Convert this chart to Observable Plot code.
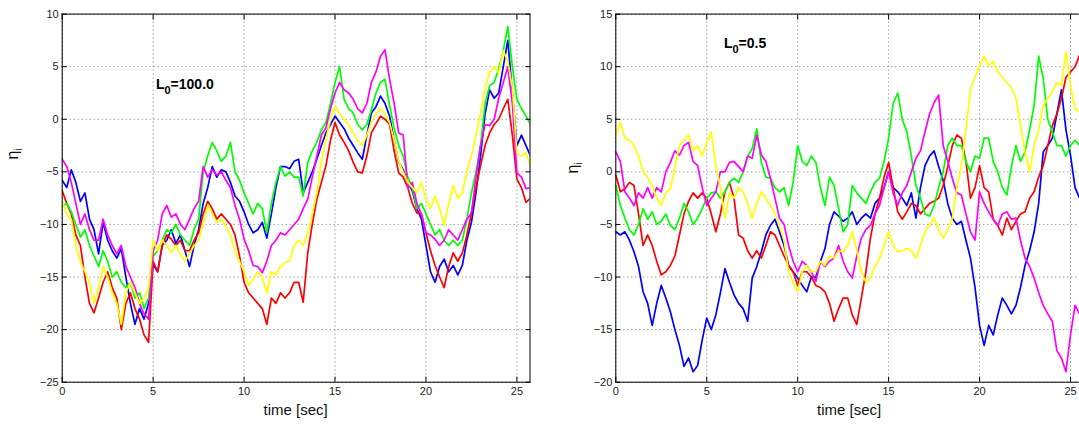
<!DOCTYPE html>
<html><head><meta charset="utf-8">
<script src="https://cdn.jsdelivr.net/npm/d3@7"></script>
<script src="https://cdn.jsdelivr.net/npm/@observablehq/plot@0.6"></script>
<style>
html,body{margin:0;padding:0;background:#fff;overflow:hidden;}
#wrap{position:relative;width:1079px;height:425px;overflow:hidden;}
#left,#right{position:absolute;top:0;height:425px;}
#left{left:0;width:540px;} #right{left:540px;width:560px;}
#wrap svg{max-width:none !important;}
</style></head><body>
<div id="wrap"><div id="left"></div><div id="right"></div></div>
<script>
// sample spacing of the read values (seconds)
const dt = 0.25;
const seriesColors = ["#0000ff", "#ff0000", "#00ff00", "#ff00ff", "#ffff00"];
const xTicks = [0, 5, 10, 15, 20, 25];
const yTicksLeft = [-25, -20, -15, -10, -5, 0, 5, 10];
const yTicksRight = [-20, -15, -10, -5, 0, 5, 10, 15];
const panelTitles = ["100.0", "0.5"];
const annT = [5.18, 5.97];
const annV = [2.8, 11.74];

// ---- Left panel (L0 = 100.0) ----
const leftBlue = [
-5.8,-6.5,-4.8,-6.0, -7.8,-7.0,-9.5,-10.5, -12.8,-9.8,-11.5,-12.5, -13.2,-12.3,-15.0,-17.5,
-19.5,-18.0,-19.0,-17.5, -13.8,-14.5,-12.0,-11.5, -10.5,-11.8,-11.0,-12.5, -14.0,-12.0,-10.5,-8.0,
-6.5,-4.5,-5.5,-4.8, -5.0,-6.0,-7.3,-7.8, -8.8,-10.0,-10.8,-10.5, -9.8,-11.3,-9.0,-6.5,
-4.5,-4.5,-4.7,-4.0, -3.8,-7.0,-6.0,-5.0, -3.8,-2.5,-1.3,-0.5, 0.3,-0.3,-0.9,-1.8,
-2.5,-3.2,-3.8,-1.5, 0.6,1.2,2.2,1.5, 0.3,-2.0,-4.1,-4.8, -6.0,-6.8,-8.5,-9.5,
-12.0,-14.5,-15.5,-14.0, -13.3,-14.5,-13.9,-14.8, -13.9,-11.5,-9.8,-7.0, -3.5,0.5,2.8,2.0,
2.5,5.0,7.5,2.5, -2.5,-1.5,-2.5,-3.5];
const leftGreen = [
-8.3,-8.0,-8.8,-10.0, -11.2,-10.5,-12.0,-13.0, -14.0,-12.5,-13.5,-15.0, -14.5,-15.5,-16.0,-15.5,
-17.0,-16.5,-18.0,-17.0, -13.0,-12.5,-11.5,-10.5, -10.8,-10.0,-11.0,-11.5, -12.0,-10.5,-9.5,-5.0,
-3.5,-2.2,-3.0,-4.0, -3.5,-2.2,-5.0,-5.8, -7.0,-8.0,-9.0,-8.0, -8.5,-10.8,-8.0,-6.0,
-4.5,-5.4,-5.0,-5.5, -5.5,-7.3,-4.1,-3.0, -2.2,-1.0,-0.3,1.5, 3.5,5.0,1.9,1.0,
0.6,-0.5,-1.0,-0.5, 0.9,2.5,3.5,3.8, 1.3,-0.8,-2.5,-3.5, -5.5,-6.5,-8.5,-8.0,
-9.0,-10.0,-11.0,-10.5, -11.5,-12.0,-11.5,-12.0, -11.5,-9.5,-7.0,-5.0, -2.5,1.5,3.2,3.5,
4.8,6.5,8.8,5.0, 1.9,1.0,0.3,-0.5];
const leftRed = [
-6.8,-8.0,-9.0,-11.0, -12.0,-15.0,-17.5,-18.4, -17.0,-15.5,-14.5,-16.0, -17.0,-20.0,-17.5,-16.5,
-18.0,-19.0,-20.5,-21.2, -13.5,-14.5,-12.0,-11.0, -11.4,-12.0,-11.5,-12.5, -12.5,-11.5,-10.8,-9.0,
-7.8,-8.5,-9.5,-9.0, -9.5,-10.0,-11.0,-13.0, -15.5,-16.5,-17.0,-17.5, -18.0,-19.5,-17.0,-17.5,
-16.5,-17.0,-16.5,-15.5, -15.5,-17.4,-12.7,-10.0, -7.6,-6.0,-4.4,-2.0, -0.3,-1.5,-2.2,-3.0,
-4.1,-5.0,-5.1,-3.5, -1.3,-0.5,0.3,0.0, -0.5,-3.0,-5.1,-5.5, -6.5,-8.0,-8.9,-9.0,
-10.8,-12.5,-13.9,-15.0, -16.0,-14.0,-12.7,-13.5, -12.7,-11.0,-8.9,-6.5, -4.4,-2.5,-1.3,-0.5,
0.0,1.0,1.9,-1.5, -5.7,-6.5,-7.9,-7.5];
const leftYellow = [
-7.8,-9.0,-9.5,-12.0, -13.5,-14.5,-15.5,-17.5, -16.0,-14.0,-15.0,-16.5, -17.5,-19.5,-16.5,-15.5,
-16.5,-17.5,-17.0,-16.0, -11.5,-12.5,-11.5,-12.0, -12.7,-12.0,-12.8,-13.5, -12.8,-12.0,-11.5,-10.0,
-8.2,-9.0,-9.8,-9.5, -10.2,-11.0,-12.5,-13.5, -14.5,-15.8,-15.2,-14.5, -15.0,-16.5,-14.5,-14.8,
-14.0,-13.6,-13.5,-12.0, -11.5,-12.0,-10.8,-9.0, -7.0,-4.0,-1.9,0.0, 1.3,0.5,0.0,-0.5,
-1.3,-2.0,-2.5,-1.5, -0.3,0.5,1.0,0.5, -0.3,-2.0,-4.0,-5.0, -6.0,-6.5,-7.0,-6.0,
-7.6,-8.5,-7.3,-8.5, -10.1,-8.0,-6.3,-7.5, -7.0,-5.0,-3.5,-1.5, 0.6,3.0,4.5,5.0,
4.4,6.5,5.5,3.0, -3.2,-3.5,-3.2,-4.5];
const leftMagenta = [
-3.8,-4.5,-6.0,-8.0, -10.0,-9.0,-10.5,-11.5, -11.5,-9.5,-11.0,-12.0, -12.8,-12.0,-14.0,-15.0,
-16.0,-17.5,-18.5,-19.0, -12.5,-11.5,-9.0,-8.2, -9.3,-9.0,-10.0,-10.5, -9.5,-8.5,-7.8,-4.5,
-5.5,-4.8,-5.3,-5.0, -5.8,-6.5,-8.2,-9.5, -11.4,-12.5,-13.9,-14.0, -14.6,-13.5,-12.0,-11.5,
-10.8,-11.0,-10.5,-10.0, -9.5,-8.5,-7.6,-5.5, -3.5,-1.5,-0.8,1.0, 2.5,3.5,2.8,2.5,
1.9,1.0,0.6,1.5, 3.5,4.5,6.0,6.6, 3.8,1.5,-1.3,-1.5, -6.5,-6.0,-8.0,-9.0,
-10.8,-11.0,-11.4,-12.0, -11.5,-10.5,-11.0,-11.5, -10.5,-9.5,-8.9,-5.5, -2.5,-0.5,-0.6,0.0,
2.0,3.5,5.0,1.5, -5.1,-5.5,-6.6,-6.5];

// ---- Right panel (L0 = 0.5) ----
const rightBlue = [
-5.7,-6.0,-5.7,-6.5, -7.6,-9.0,-11.4,-12.5, -14.6,-12.5,-10.8,-12.0, -13.3,-15.0,-16.5,-18.5,
-17.7,-19.0,-18.4,-16.0, -13.9,-15.0,-13.6,-11.5, -9.2,-10.5,-11.7,-12.5, -13.0,-14.2,-10.1,-9.0,
-7.6,-6.0,-5.1,-4.5, -5.7,-7.0,-8.9,-9.5, -10.1,-10.8,-11.4,-10.0, -10.0,-8.5,-7.3,-5.0,
-3.8,-4.2,-4.7,-4.4, -3.8,-5.0,-4.4,-4.0, -4.4,-3.0,-2.5,-1.5, 0.0,-1.5,-1.9,-2.5,
-3.2,-2.0,-4.4,-1.5, 0.6,1.5,2.0,0.5, -0.8,-3.0,-4.4,-5.0, -4.7,-6.5,-8.2,-11.0,
-14.6,-16.5,-14.6,-15.5, -13.6,-12.0,-12.7,-13.5, -12.7,-11.0,-8.9,-7.5, -5.7,-3.0,1.9,2.5,
3.2,5.5,7.8,4.0, 1.6,-1.5,-2.5,-3.0];
const rightGreen = [
-1.3,-3.2,-4.4,-5.5, -6.0,-5.0,-3.5,-4.5, -3.8,-5.0,-4.7,-4.0, -5.1,-5.5,-4.4,-3.0,
-3.8,-5.0,-4.4,-3.5, -2.5,-2.0,-1.9,-2.5, -1.9,-1.0,-0.6,-1.0, 0.0,1.5,2.2,4.1,
0.9,-0.5,-0.6,-1.5, -1.9,-1.5,-3.2,-1.0, 2.5,1.0,0.6,1.5, 0.9,-1.5,-3.2,-0.5,
-1.3,-3.5,-5.7,-5.0, -1.3,-2.0,-2.5,-3.0, -1.9,-1.0,-0.6,1.0, 3.2,6.5,7.5,5.0,
3.8,1.5,-1.3,-2.5, -4.0,-4.2,-3.2,-1.5, 0.0,2.5,3.2,2.5, 2.5,1.0,0.0,1.5,
1.3,3.2,3.2,1.0, 0.0,-1.5,-2.2,0.5, 2.5,1.0,1.9,4.0, 6.3,11.0,8.9,5.0,
3.8,2.5,2.5,1.5, 2.5,3.0,2.5,2.0];
const rightRed = [
-0.3,-1.9,-1.6,-1.0, -1.3,-4.0,-7.0,-6.0, -7.0,-8.5,-9.8,-9.5, -8.9,-8.0,-6.0,-4.0,
-2.8,-2.0,-2.5,-2.0, -2.5,-4.0,-5.7,-4.0, -1.9,-1.0,-2.5,-6.0, -6.3,-7.5,-8.2,-7.5,
-8.2,-7.0,-5.7,-6.0, -7.0,-8.0,-8.9,-9.5, -10.8,-9.5,-9.5,-10.0, -10.8,-11.0,-11.4,-12.5,
-14.2,-13.0,-12.0,-12.0, -13.6,-14.5,-12.0,-9.5, -6.3,-4.0,-2.5,-0.5, 0.9,-1.5,-3.8,-4.5,
-3.8,-3.0,-3.2,-4.0, -3.5,-3.0,-2.8,-2.5, -1.3,0.5,2.5,3.5, 3.2,1.0,-2.5,-1.5,
0.6,-1.5,-1.9,-4.5, -5.1,-6.0,-4.4,-5.5, -4.7,-4.0,-3.8,-2.5, -1.9,-0.5,0.6,2.5,
4.4,5.5,7.0,9.0, 9.5,10.0,11.1,10.0];
const rightYellow = [
3.5,4.7,3.2,3.0, 2.5,1.5,0.0,-0.5, -1.3,-2.5,-3.2,-2.0, -1.6,0.5,2.5,3.0,
3.5,2.0,2.5,1.5, 2.8,3.8,0.6,-1.5, -4.4,-2.0,-2.5,-1.5, -1.9,-3.0,-4.4,-3.0,
-1.9,-2.5,-3.2,-4.0, -5.1,-6.5,-9.5,-10.5, -11.4,-9.5,-8.9,-9.5, -9.5,-8.5,-8.9,-8.0,
-8.2,-7.5,-7.6,-7.0, -5.7,-7.5,-9.5,-10.5, -10.1,-9.0,-8.2,-7.0, -5.7,-7.0,-7.6,-7.5,
-7.3,-7.5,-8.2,-7.0, -5.7,-5.0,-4.4,-5.5, -6.3,-5.5,-4.4,-1.5, 0.6,4.0,7.9,9.0,
10.1,11.0,10.1,10.5, 9.5,9.0,8.5,8.0, 7.0,4.5,1.9,0.0, 2.5,4.0,6.3,7.0,
7.6,8.5,8.2,11.4, 8.2,6.0,5.7,6.0];
const rightMagenta = [
1.9,1.0,-1.9,-2.5, -3.2,-2.0,-2.5,-1.5, -2.5,-1.5,-1.9,0.0, 0.9,2.0,1.6,2.5,
2.8,1.0,0.6,-1.5, -3.2,-2.5,-1.9,0.0, 0.0,0.9,1.0,0.5, 0.0,1.5,1.3,3.5,
1.6,1.0,-0.6,-2.5, -4.4,-5.0,-7.0,-8.5, -9.5,-8.5,-8.9,-9.5, -10.4,-8.5,-9.0,-8.5,
-8.2,-7.0,-8.5,-9.5, -10.1,-8.0,-6.3,-5.5, -5.1,-4.0,-3.2,-1.5, 0.0,-2.0,-3.2,-2.0,
-1.3,0.0,1.3,2.0, 3.8,5.5,6.6,7.3, 2.5,1.0,-0.6,-2.0, -2.2,-4.0,-5.7,-6.5,
-1.9,-3.0,-3.8,-4.5, -5.1,-4.0,-3.8,-4.5, -4.4,-6.5,-8.2,-9.0, -10.1,-11.5,-12.7,-13.5,
-14.2,-17.0,-17.7,-19.0, -15.5,-12.7,-13.5,-13.0];

const leftSeries = [leftBlue, leftRed, leftGreen, leftMagenta, leftYellow];
const rightSeries = [rightBlue, rightRed, rightGreen, rightMagenta, rightYellow];

const FONT = "'Liberation Sans', Arial, Helvetica, sans-serif";

function panel(el, series, yDomain, yTicks, o) {
  const W = o.width, H = 425;
  const lines = series.map((vals, k) =>
    Plot.line(vals, {x: (d, i) => i * dt, y: d => d, stroke: seriesColors[k], strokeWidth: 1.7, clip: true}));
  const plot = Plot.plot({
    width: W, height: H,
    marginTop: 13.6, marginBottom: 43.3, marginLeft: o.ml, marginRight: o.mr,
    style: {fontFamily: FONT, fontSize: "11px", color: "#222", background: "#fff", overflow: "visible", maxWidth: "none"},
    x: {domain: [0, 25.72]},
    y: {domain: yDomain},
    marks: [
      Plot.gridX(xTicks, {stroke: "#000", strokeOpacity: 0.55, strokeDasharray: "1,3"}),
      Plot.gridY(yTicks, {stroke: "#000", strokeOpacity: 0.55, strokeDasharray: "1,3"}),
      ...lines,
      Plot.frame({stroke: "#000", strokeWidth: 1}),
      Plot.axisX(xTicks, {anchor: "bottom", tickSize: -5, tickPadding: 10, label: null, stroke: "#000"}),
      Plot.axisX(xTicks, {anchor: "top", tickSize: -5, tickFormat: () => "", label: null, stroke: "#000"}),
      Plot.axisY(yTicks, {anchor: "left", tickSize: -5, tickPadding: 8.5, label: null, stroke: "#000"}),
      Plot.axisY(yTicks, {anchor: "right", tickSize: -5, tickFormat: () => "", label: null, stroke: "#000"})
    ]
  });
  const svg = d3.select(plot);
  svg.append("text").attr("x", o.ml + (W - o.ml - o.mr) / 2).attr("y", 415)
    .attr("text-anchor", "middle").attr("font-size", 15).attr("fill", "#111").text("time [sec]");
  const yl = svg.append("text").attr("transform", `translate(${o.ylx},${o.yly}) rotate(-90)`)
    .attr("text-anchor", "middle").attr("font-size", 16).attr("fill", "#111");
  yl.append("tspan").text("η");
  yl.append("tspan").attr("dy", 4).attr("font-size", 10).text("i");
  const sx = plot.scale("x"), sy = plot.scale("y");
  const a = svg.append("text").attr("x", sx.apply(annT[o.k])).attr("y", sy.apply(annV[o.k]))
    .attr("text-anchor", "start").attr("font-weight", "bold").attr("font-size", 14).attr("fill", "#000");
  a.append("tspan").text("L");
  a.append("tspan").attr("dy", 5).attr("font-size", 11).text("0");
  a.append("tspan").attr("dy", -5).text("=" + panelTitles[o.k]);
  document.getElementById(el).appendChild(plot);
}

panel("left", leftSeries, [-25, 10], yTicksLeft, {width: 540, ml: 61.7, mr: 10.5, ylx: 18, yly: 154, k: 0});
panel("right", rightSeries, [-20, 15], yTicksRight, {width: 560, ml: 75.3, mr: 16.9, ylx: 38, yly: 168, k: 1});
</script>
</body></html>
